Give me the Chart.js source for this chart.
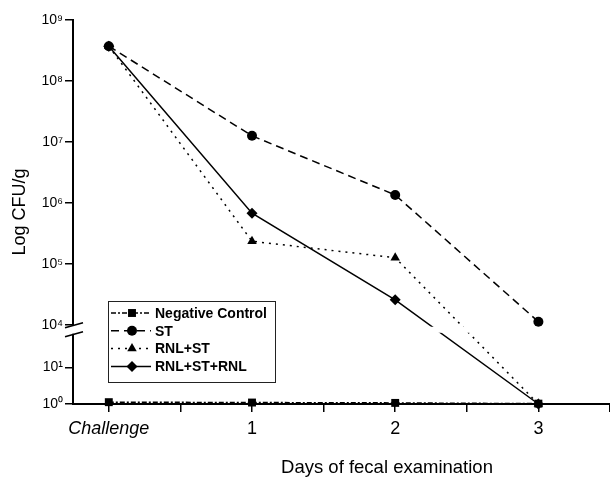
<!DOCTYPE html>
<html><head><meta charset="utf-8">
<script src="https://cdn.jsdelivr.net/npm/chart.js@4/dist/chart.umd.min.js"></script>
<style>html,body{margin:0;padding:0;background:#fff;overflow:hidden}#wrap{width:610px;height:477px;position:relative}canvas{display:block}</style>
</head><body><div id="wrap"><canvas id="c"></canvas></div>
<script>
// ---- data (log10 CFU/g) ----
const categories = ['Challenge', '1', '2', '3'];
const dayValues = [0, 1, 2, 3];
const seriesNames = ['Negative Control', 'ST', 'RNL+ST', 'RNL+ST+RNL'];
const negativeControl = [0.05, 0.04, 0.03, 0.01];
const stValues = [8.57, 7.10, 6.13, 4.05];
const rnlStValues = [8.57, 5.37, 5.10, 0.0];
const rnlStRnlValues = [8.57, 5.83, 4.41, 0.0];
const yTickExponents = [0, 1, 4, 5, 6, 7, 8, 9];
const yTickLabels = ['10\u2070', '10\u00b9', '10\u2074', '10\u2075', '10\u2076', '10\u2077', '10\u2078', '10\u2079'];
const xTickValues = [0, 0.5, 1, 1.5, 2, 2.5, 3, 3.5];

// broken axis: 10^0..10^1 and 10^1..10^4 compressed
function toAxis(e) {
  if (e >= 4) return e - 2.7;
  if (e >= 1) return 0.6 + (e - 1) * 0.7 / 3;
  return 0.6 * e;
}
function pts(arr) { return dayValues.map((d, i) => ({ x: d, y: toAxis(arr[i]) })); }

const FONT = 'Liberation Sans';
const styles = [
  { dash: [5, 2, 2, 2], point: 'rect', r: 5.6 },
  { dash: [8, 5], point: 'circle', r: 5 },
  { dash: [2, 5], point: 'triangle', r: 5.5 },
  { dash: [], point: 'rectRot', r: 5.5 }
];
const seriesData = [negativeControl, stValues, rnlStValues, rnlStRnlValues];

const datasets = seriesData.map((arr, i) => ({
  label: seriesNames[i],
  data: pts(arr),
  borderColor: '#000',
  backgroundColor: '#000',
  borderWidth: 1.5,
  borderDash: styles[i].dash,
  pointStyle: styles[i].point,
  pointRadius: styles[i].r,
  pointBorderWidth: 0,
  tension: 0,
  clip: false,
  fill: false
}));

function drawMarker(ctx, style, x, y, r) {
  ctx.beginPath();
  if (style === 'rect') { const s = Math.SQRT1_2 * r; ctx.rect(x - s, y - s, 2 * s, 2 * s); }
  else if (style === 'circle') { ctx.arc(x, y, r, 0, Math.PI * 2); }
  else if (style === 'triangle') {
    ctx.moveTo(x, y - r); ctx.lineTo(x + r * 0.866, y + r * 0.5); ctx.lineTo(x - r * 0.866, y + r * 0.5); ctx.closePath();
  } else { ctx.moveTo(x, y - r); ctx.lineTo(x + r, y); ctx.lineTo(x, y + r); ctx.lineTo(x - r, y); ctx.closePath(); }
  ctx.fill();
}

const breakPlugin = {
  id: 'breakPlugin',
  afterDatasetDraw(chart, args) {
    if (args.index !== 2) return;
    const ctx = chart.ctx, ca = chart.chartArea, ys = chart.scales.y;
    const by = ys.getPixelForValue(toAxis(4));
    ctx.save();
    ctx.fillStyle = '#fff';
    ctx.fillRect(ca.left + 2, by + 2, ca.right - ca.left - 2, 6);
    ctx.restore();
  },
  afterDraw(chart) {
    const ctx = chart.ctx, ca = chart.chartArea, ys = chart.scales.y;
    const by = ys.getPixelForValue(toAxis(4));
    const ax = ca.left;
    ctx.save();
    // gap on the axis
    ctx.fillStyle = '#fff';
    ctx.fillRect(ax - 2, by + 1, 4, 8);
    ctx.strokeStyle = '#000';
    ctx.lineWidth = 1.6;
    ctx.beginPath();
    ctx.moveTo(ax - 8, by + 3); ctx.lineTo(ax + 10, by - 2);
    ctx.moveTo(ax - 8, by + 12); ctx.lineTo(ax + 10, by + 7);
    ctx.stroke();

    // legend
    const lx = ca.left + 35, ly = ca.top + 281, lw = 167, lh = 81;
    ctx.lineWidth = 1;
    ctx.strokeStyle = '#222';
    ctx.strokeRect(lx + 0.5, ly + 0.5, lw, lh);
    ctx.font = 'bold 14px "' + FONT + '"';
    ctx.textBaseline = 'middle';
    ctx.textAlign = 'left';
    ctx.fillStyle = '#000';
    for (let i = 0; i < seriesNames.length; i++) {
      const y = ly + 12 + i * 17.8;
      ctx.save();
      ctx.setLineDash(styles[i].dash);
      ctx.lineWidth = 1.5;
      ctx.strokeStyle = '#000';
      ctx.beginPath(); ctx.moveTo(lx + 3, y); ctx.lineTo(lx + 43, y); ctx.stroke();
      ctx.restore();
      drawMarker(ctx, styles[i].point, lx + 24, y, styles[i].r);
      ctx.fillText(seriesNames[i], lx + 47, y + 1);
    }

    // x-axis title
    ctx.font = '18.5px "' + FONT + '"';
    ctx.textAlign = 'center';
    ctx.textBaseline = 'alphabetic';
    ctx.fillText('Days of fecal examination', ca.left + 314, 473);
    ctx.restore();
  }
};

new Chart(document.getElementById('c'), {
  type: 'line',
  data: { datasets },
  options: {
    responsive: true,
    maintainAspectRatio: false,
    animation: false,
    layout: { autoPadding: false, padding: { top: 20, right: 0, left: 0, bottom: 0 } },
    plugins: { legend: { display: false }, tooltip: { enabled: false } },
    scales: {
      x: {
        type: 'linear',
        min: -0.25,
        max: 3.5,
        afterBuildTicks: s => { s.ticks = xTickValues.map(v => ({ value: v })); },
        afterFit: s => { s.height = 73; s.paddingLeft = 0; s.paddingRight = 0; },
        border: { display: true, color: '#000', width: 2 },
        grid: { drawOnChartArea: false, drawTicks: true, tickLength: 8, color: '#000', lineWidth: 1.5 },
        ticks: {
          autoSkip: false,
          maxRotation: 0,
          padding: 6,
          color: '#000',
          font: ctx => ({ family: FONT, size: 18, style: ctx.tick && ctx.tick.value === 0 ? 'italic' : 'normal' }),
          callback: v => (Number.isInteger(v) ? categories[dayValues.indexOf(v)] : '')
        }
      },
      y: {
        type: 'linear',
        min: 0,
        max: toAxis(9),
        afterBuildTicks: s => { s.ticks = yTickExponents.map(e => ({ value: toAxis(e) })); },
        afterFit: s => { s.width = 73; },
        border: { display: true, color: '#000', width: 2 },
        grid: { drawOnChartArea: false, drawTicks: true, tickLength: 8, color: '#000', lineWidth: 1.5 },
        ticks: {
          autoSkip: false,
          padding: 2,
          color: '#000',
          font: { family: FONT, size: 14 },
          callback: (v, i) => yTickLabels[i]
        },
        title: {
          display: true,
          text: 'Log CFU/g',
          color: '#000',
          font: { family: FONT, size: 18 },
          padding: { top: 9, bottom: 0 }
        }
      }
    }
  },
  plugins: [breakPlugin]
});
</script>
</body></html>
